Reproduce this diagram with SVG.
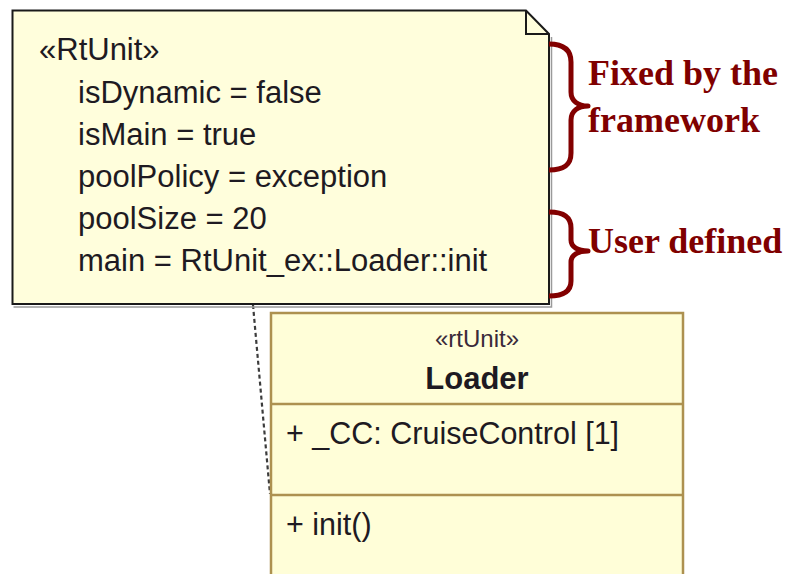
<svg xmlns="http://www.w3.org/2000/svg" width="787" height="574" viewBox="0 0 787 574">
  <style>
    .body { font-family: "Liberation Sans", Arial, sans-serif; font-size: 30.5px; fill: #1e1a22; }
    .note-text { font-size: 31px; }
    .stereo { font-family: "Liberation Sans", Arial, sans-serif; font-size: 24px; fill: #3a2a3a; }
    .title { font-family: "Liberation Sans", Arial, sans-serif; font-size: 31px; font-weight: bold; fill: #1e1a22; }
    .callout { font-family: "Liberation Serif", "Times New Roman", serif; font-size: 36px; font-weight: bold; fill: #7f0000; }
    .brace { fill: none; stroke: #820000; stroke-width: 5; stroke-linecap: butt; stroke-linejoin: round; }
    .classbox { fill: #fffed8; stroke: #ad9150; stroke-width: 2.5; }
    .divider { stroke: #ad9150; stroke-width: 2.5; }
  </style>

  <rect width="787" height="574" fill="#ffffff"/>

  <!-- connectors -->
  <g id="connectors">
    <line x1="253" y1="305" x2="270" y2="494" stroke="#3c3c3c" stroke-width="2.2" stroke-dasharray="4 3"/>
  </g>

  <!-- constraint note -->
  <g id="note">
    <path d="M13.5,307 H551.5 V37" fill="none" stroke="#9a9a9a" stroke-width="1.5"/>
    <path d="M12.5,10.5 H526 L549,34 V304 H12.5 Z" fill="#fffedc" stroke="#1a1a1a" stroke-width="2"/>
    <path d="M526,10.5 V34 H549" fill="none" stroke="#1a1a1a" stroke-width="2"/>
    <text class="body note-text" x="39" y="60">«RtUnit»</text>
    <text class="body note-text" x="78" y="103">isDynamic = false</text>
    <text class="body note-text" x="78" y="145">isMain = true</text>
    <text class="body note-text" x="78" y="187">poolPolicy = exception</text>
    <text class="body note-text" x="78" y="229">poolSize = 20</text>
    <text class="body note-text" x="78" y="271">main = RtUnit_ex::Loader::init</text>
  </g>

  <!-- Loader class -->
  <g id="loader">
    <rect class="classbox" x="271" y="313" width="412" height="280"/>
    <line class="divider" x1="271" y1="404" x2="683" y2="404"/>
    <line class="divider" x1="271" y1="495" x2="683" y2="495"/>
    <text class="stereo" x="477" y="347" text-anchor="middle">«rtUnit»</text>
    <text class="title" x="477" y="389" text-anchor="middle">Loader</text>
    <text class="body" x="286" y="444">+ _CC: CruiseControl [1]</text>
    <text class="body" x="286" y="535">+ init()</text>
  </g>

  <!-- brace: framework-defined properties -->
  <g id="fixed-brace">
    <path class="brace" d="M549,44 C564,44 571,50 571,62 L571,92 C571,101 578,106 588,106 C578,106 571,111 571,120 L571,153 C571,165 564,170 549,170"/>
    <text class="callout" x="588" y="85">Fixed by the</text>
    <text class="callout" x="588" y="132">framework</text>
  </g>

  <!-- brace: user-defined properties -->
  <g id="user-brace">
    <path class="brace" d="M549,212 C564,212 571,217 571,228 L571,240 C571,247 578,251 588,251 C578,251 571,255 571,262 L571,281 C571,291 564,296 549,296"/>
    <text class="callout" x="588" y="253">User defined</text>
  </g>
</svg>
